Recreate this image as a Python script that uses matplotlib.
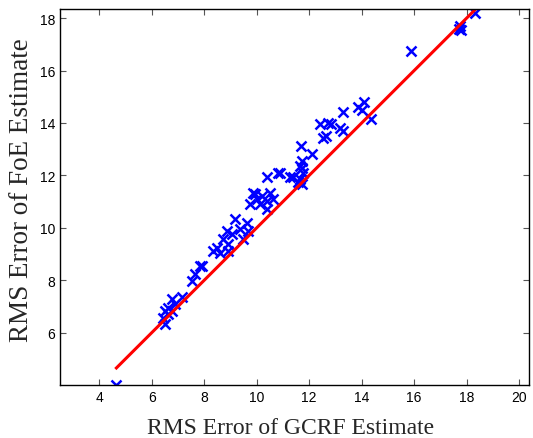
import matplotlib
matplotlib.use('Agg')
import matplotlib.pyplot as plt

# RMS error pairs
gcrf = [4.65, 6.44, 6.5, 6.5, 6.63, 6.63, 6.76, 6.76, 6.88, 7.14,
        7.52, 7.65, 7.84, 7.9, 8.34, 8.47, 8.6, 8.72, 8.91, 8.91,
        8.85, 9.04, 9.36, 9.49, 9.68, 9.17, 9.62, 9.74, 10.0, 10.12,
        10.38, 10.38, 9.93, 10.19, 10.5, 10.63, 9.87, 10.38, 10.82, 10.88,
        11.26, 11.39, 11.58, 11.71, 11.65, 11.72, 11.71, 11.65, 11.78, 12.09,
        11.7, 12.53, 12.65, 12.4, 12.7, 12.85, 13.17, 13.3, 13.3, 13.85,
        14.0, 14.1, 14.34, 15.9, 17.7, 17.74, 17.8, 18.31]
foe = [4.0, 6.57, 6.32, 6.82, 6.7, 6.95, 6.82, 7.27, 7.08, 7.34,
       7.97, 8.23, 8.54, 8.54, 9.11, 9.24, 9.05, 9.56, 9.37, 9.11,
       9.88, 9.75, 9.94, 9.56, 9.88, 10.32, 10.2, 10.9, 11.09, 10.9,
       11.02, 10.7, 11.28, 11.21, 11.34, 11.09, 11.34, 11.92, 12.1, 12.1,
       11.92, 11.92, 11.73, 11.66, 11.85, 12.27, 12.55, 12.36, 12.1, 12.8,
       13.12, 13.44, 13.5, 13.98, 14.0, 13.98, 13.8, 13.7, 14.4, 14.6,
       14.5, 14.8, 14.17, 16.75, 17.6, 17.7, 17.55, 18.19]

xticks = [4, 6, 8, 10, 12, 14, 16, 18, 20]
yticks = [6, 8, 10, 12, 14, 16, 18]

fig = plt.figure(figsize=(5.33, 4.39), dpi=100)
ax = fig.add_axes([60/533, 53/439, 469/533, 376/439])

ax.plot(gcrf, foe, 'x', color='blue', ms=7.5, mew=1.8)
lo, hi = min(gcrf), max(gcrf)
ax.plot([lo, hi], [lo, hi], '-', color='red', lw=2.2)

ax.set_xlim(2.5, 20.38)
ax.set_ylim(4.0, 18.35)
ax.set_xticks(xticks)
ax.set_yticks(yticks)
ax.tick_params(direction='in', top=True, right=True, length=4, width=0.8,
               labelsize=10, color='#555555')
for lbl in ax.get_xticklabels() + ax.get_yticklabels():
    lbl.set_family('Liberation Sans')
for s in ax.spines.values():
    s.set_linewidth(1.0)

ax.set_xlabel('RMS Error of GCRF Estimate', family='Liberation Serif',
              fontsize=17, color='#262626')
ax.set_ylabel('RMS Error of FoE Estimate', family='Liberation Serif',
              fontsize=19.5, color='#262626')
ax.xaxis.set_label_coords(0.4925, -0.085)
ax.yaxis.set_label_coords(-0.055, 0.52)

fig.savefig('out.png', dpi=100)
